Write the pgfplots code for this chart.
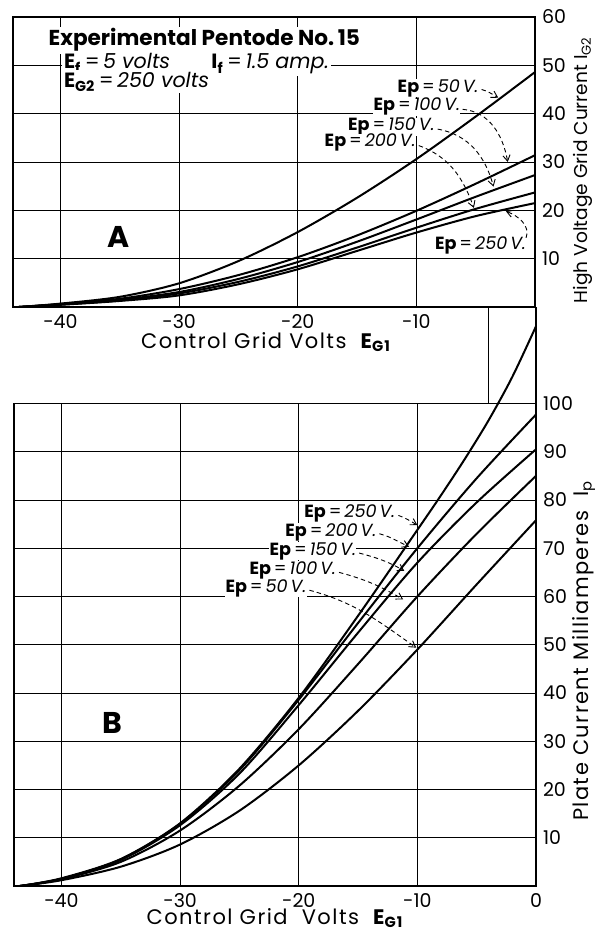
\documentclass[border=0pt]{standalone}
\usepackage{pgfplots}
\pgfplotsset{compat=1.18}
\usepackage{fontspec}
\setmainfont{Poppins}
\newfontfamily\spaced[LetterSpace=7]{Poppins}
\usetikzlibrary{arrows.meta}

\newcommand{\ep}[1]{\textbf{Ep}\,=\,\textit{#1\,V.}}

\pgfplotsset{
  chart/.style={
    scale only axis, xmin=-44, xmax=0, ymin=0,
    axis line style={line width=0.8pt},
    grid=major, grid style={line width=0.45pt, black},
    major tick length=0pt,
    yticklabel pos=right,
    tick label style={font=\fontsize{9.5}{11}\selectfont},
    clip=false,
    every axis x label/.style={at={(axis description cs:0.5,0)}, anchor=center, font=\spaced\fontsize{10.5}{12}\selectfont},
    every axis y label/.style={at={(axis description cs:1,0.5)}, anchor=center},
  },
  crv/.style={black, line width=1pt, smooth, mark=none},
}
\tikzset{
  lab/.style={font=\fontsize{8.8}{9}\selectfont, fill=white, inner sep=0.2pt, anchor=east},
  arr/.style={line width=0.45pt, dash pattern=on 2.2pt off 1.6pt, -{Straight Barb[length=3pt,width=3.6pt]}},
}

\begin{document}
\begin{tikzpicture}[x=1pt,y=1pt]
\useasboundingbox (0,0) rectangle (297,465);

% ---------------- Panel A ----------------
\begin{axis}[chart, name=A,
  at={(6.5pt,311.5pt)}, anchor=south west,
  width=261pt, height=145pt, ymax=60,
  xtick={-40,-30,-20,-10}, xticklabels={-40,-30,-20,-10},
  ytick={10,20,30,40,50,60}, yticklabels={10,20,30,40,50,60},
  xlabel={Control Grid Volts\ \ \textbf{E\textsubscript{G1}}},
  xlabel style={xshift=-4pt, yshift=-17.5pt},
  ylabel={High Voltage Grid Current I\textsubscript{G2}},
  ylabel style={font=\fontsize{9.3}{11}\selectfont, xshift=24pt, yshift=-4pt, rotate=90},
]
\addplot[crv] coordinates {(-43.5,0) (-40,0.7) (-35,2.1) (-30,4.9) (-25,9.5) (-20,15.5) (-15,22.6) (-10,30.6) (-5,39.4) (0,48.6)};
\addplot[crv] coordinates {(-43.5,0) (-40,0.6) (-35,1.7) (-30,3.7) (-25,6.6) (-20,10.3) (-15,14.8) (-10,19.9) (-5,25.5) (0,31.4)};
\addplot[crv] coordinates {(-43.5,0) (-40,0.55) (-35,1.5) (-30,3.1) (-25,5.8) (-20,9.3) (-15,13.5) (-10,18.1) (-5,22.8) (0,27.3)};
\addplot[crv] coordinates {(-43.5,0) (-40,0.5) (-35,1.35) (-30,2.8) (-25,5.2) (-20,8.4) (-15,12.3) (-10,16.4) (-5,20.3) (0,23.7)};
\addplot[crv] coordinates {(-43.5,0) (-40,0.45) (-35,1.25) (-30,2.4) (-25,4.7) (-20,7.8) (-15,11.6) (-10,15.4) (-5,18.8) (0,21.5)};

\node[fill=white, inner sep=1pt, anchor=west, font=\bfseries\fontsize{10.8}{12}\selectfont] at (axis cs:-41.2,55.2) {Experimental Pentode No.\,15};
\node[fill=white, inner sep=1pt, anchor=west, font=\fontsize{10.3}{11}\selectfont] at (axis cs:-39.9,50.3) {\textbf{E\textsubscript{f}}\,=\,\textit{5 volts}\qquad \textbf{I\textsubscript{f}}\,=\,\textit{1.5 amp.}};
\node[fill=white, inner sep=1pt, anchor=west, font=\fontsize{10.3}{11}\selectfont] at (axis cs:-39.9,46.6) {\textbf{E\textsubscript{G2}}\,=\,\textit{250 volts}};

\node[font=\bfseries\fontsize{15}{16}\selectfont] at (axis cs:-35.1,14.5) {A};

\node[lab] at (axis cs:-4.7,45.3) {\ep{50}};
\node[lab] at (axis cs:-6.25,41.4) {\ep{100}};
\node[lab] at (axis cs:-8.4,37.3) {\ep{150}};
\node[lab] at (axis cs:-10.0,34.0) {\ep{200}};
\node[lab] at (axis cs:-0.7,12.8) {\ep{250}};

\draw[arr] (axis cs:-4.5,45.0) to[out=-15,in=150] (axis cs:-3.1,43.3);
\draw[arr] (axis cs:-6.1,40.9) to[out=-5,in=100] (axis cs:-2.3,30.0);
\draw[arr] (axis cs:-8.2,36.8) to[out=-10,in=105] (axis cs:-3.5,24.9);
\draw[arr] (axis cs:-9.8,33.4) to[out=-20,in=110] (axis cs:-5.15,20.5);
\draw[arr] (axis cs:-0.75,14.3) to[out=70,in=-20] (axis cs:-2.45,19.8);
\end{axis}

% ---------------- Panel B ----------------
\begin{axis}[chart, name=B,
  at={(7pt,22pt)}, anchor=south west,
  width=261pt, height=241.25pt, ymax=100,
  xtick={-40,-30,-20,-10,0}, xticklabels={-40,-30,-20,-10,0},
  ytick={10,20,30,40,50,60,70,80,90,100}, yticklabels={10,20,30,40,50,60,70,80,90,100},
  xlabel={Control Grid\ \ Volts\ \ \textbf{E\textsubscript{G1}}},
  xlabel style={yshift=-16pt},
  ylabel={Plate Current Milliamperes\ \ I\textsubscript{p}},
  ylabel style={font=\spaced\fontsize{10.5}{12}\selectfont, xshift=24pt, yshift=-3pt, rotate=90},
]
\addplot[crv] coordinates {(-43.5,0) (-40,1.6) (-35,5.6) (-30,13.0) (-25,24.3) (-20,39) (-15,56) (-10,73.8) (-8,81) (-6,88.5) (-4,96.5) (-2,105.5) (0,116)};
\addplot[crv] coordinates {(-43.5,0) (-40,1.5) (-35,5.5) (-30,12.9) (-25,24.0) (-20,38.6) (-15,54.5) (-10,70) (-5,84.5) (0,97.7)};
\addplot[crv] coordinates {(-43.5,0) (-40,1.5) (-35,5.4) (-30,12.6) (-25,23.3) (-20,37.5) (-15,52.5) (-10,67) (-5,79.5) (0,90.5)};
\addplot[crv] coordinates {(-43.5,0) (-40,1.4) (-35,5.0) (-30,11.5) (-25,20.8) (-20,32.5) (-15,46) (-10,60) (-5,73) (0,85)};
\addplot[crv] coordinates {(-43.5,0) (-40,1.2) (-35,4.0) (-30,8.6) (-25,15.6) (-20,25) (-15,36.3) (-10,49) (-5,62.5) (0,75.8)};

\draw[line width=0.8pt] (axis cs:-4,100) -- (axis cs:-4,120);
\draw[line width=0.8pt] (axis cs:0,100) -- (axis cs:0,120);

\node[font=\bfseries\fontsize{15}{16}\selectfont] at (axis cs:-35.7,33.7) {B};

\node[lab] at (axis cs:-11.8,77.2) {\ep{250}};
\node[lab] at (axis cs:-13.4,73.3) {\ep{200}};
\node[lab] at (axis cs:-15.1,69.4) {\ep{150}};
\node[lab] at (axis cs:-16.8,65.4) {\ep{100}};
\node[lab] at (axis cs:-19.3,61.7) {\ep{50}};

\draw[arr] (axis cs:-11.6,76.8) to[out=-20,in=150] (axis cs:-10.0,74.8);
\draw[arr] (axis cs:-13.2,73.0) to[out=-15,in=155] (axis cs:-10.7,70.3);
\draw[arr] (axis cs:-14.9,69.0) to[out=-15,in=150] (axis cs:-11.1,65.3);
\draw[arr] (axis cs:-16.6,65.0) to[out=-15,in=150] (axis cs:-11.2,59.4);
\draw[arr] (axis cs:-19.1,61.3) to[out=-15,in=145] (axis cs:-10.1,49.4);
\end{axis}
\end{tikzpicture}
\end{document}
